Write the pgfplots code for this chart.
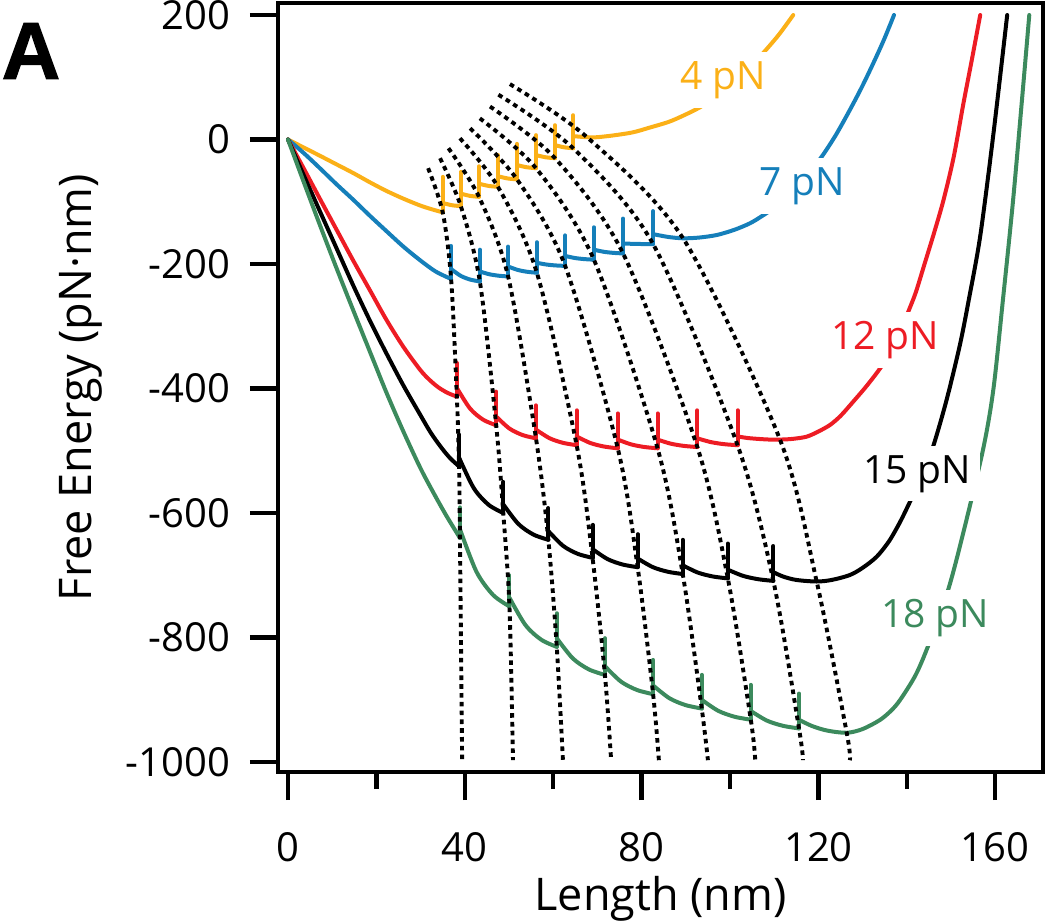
\documentclass[border=0pt]{standalone}
\usepackage{pgfplots}
\pgfplotsset{compat=1.18}
\usepackage{fontspec}
\setmainfont{Open Sans}
\newfontfamily\Afont{Liberation Sans}[BoldFeatures={FakeBold=1.5}]
\definecolor{cOr}{RGB}{251,176,23}
\definecolor{cBl}{RGB}{21,127,186}
\definecolor{cRe}{RGB}{237,28,36}
\definecolor{cGr}{RGB}{60,138,93}
\pgfplotsset{
  crv/.style={line width=2pt, line cap=round, line join=round, smooth, tension=0.5, mark=none},
  spk/.style={line width=2pt, line cap=round, mark=none},
  dot/.style={black, line width=1.95pt, dash pattern=on 2.3pt off 2.1pt, smooth, tension=0.5, mark=none},
}
\tikzset{lab/.style={fill=white, inner sep=4.5pt, font=\fontsize{19.5}{22}\selectfont}}
\begin{document}
\begin{tikzpicture}
\begin{axis}[
  scale only axis, width=382.5pt, height=384.5pt,
  xmin=-2.26, xmax=170.8, ymin=-1016, ymax=219.3,
  axis line style={line width=2pt},
  tick pos=left, tick align=outside,
  major tick length=14pt, minor tick length=8.5pt,
  tick style={line width=2.2pt, black},
  xtick={0,40,80,120,160}, xticklabels={0,40,80,120,160},
  minor xtick={20,60,100,140},
  ytick={-1000,-800,-600,-400,-200,0,200},
  yticklabels={-1000,-800,-600,-400,-200,0,200},
  ticklabel style={font=\fontsize{20}{24}\selectfont},
  xticklabel style={yshift=-12.7pt},
  yticklabel style={xshift=-6.4pt},
  xlabel={Length (nm)}, ylabel={Free Energy (pN·nm)},
  label style={font=\fontsize{22.5}{26}\selectfont},
  xlabel style={at={(axis description cs:0.5,0)}, anchor=center, yshift=-63.5pt},
  ylabel style={at={(axis description cs:0,0.5)}, anchor=center, yshift=98.5pt},
  unbounded coords=jump,
]
% ---------------- 4 pN (orange)
\addplot[crv, cOr] coordinates {(0,0) (3.6,-13) (7.2,-26) (11,-40) (14.8,-54) (18.6,-69) (22.4,-83) (26.1,-95) (29.9,-106) (32.5,-112) (35,-117)};
\addplot[crv, cOr] coordinates {(35.0,-102) (37.05,-105.5) (39.1,-107)};
\addplot[crv, cOr] coordinates {(39.1,-87) (41.15,-90.5) (43.2,-92)};
\addplot[crv, cOr] coordinates {(43.2,-71) (45.35,-74.5) (47.5,-76)};
\addplot[crv, cOr] coordinates {(47.5,-59) (49.65,-62.5) (51.8,-64)};
\addplot[crv, cOr] coordinates {(51.8,-41) (53.95,-44.5) (56.1,-46)};
\addplot[crv, cOr] coordinates {(56.1,-25) (58.25,-28.5) (60.4,-30)};
\addplot[crv, cOr] coordinates {(60.4,-9) (62.45,-12.5) (64.5,-14)};
\addplot[crv, cOr] coordinates {(64.5,5.5) (67,4) (69.5,3.5) (73.5,6.5) (78,11.5) (82,19.5) (86,28) (89,37) (93,51) (97,70) (100.5,90) (104,113) (107.5,139) (111,168) (114.3,200)};
\addplot[spk, cOr] coordinates {(35.0,-117) (35.0,-60) (nan,nan) (39.1,-107) (39.1,-52) (nan,nan) (43.2,-92) (43.2,-43) (nan,nan) (47.5,-76) (47.5,-25) (nan,nan) (51.8,-64) (51.8,-7) (nan,nan) (56.1,-46) (56.1,7) (nan,nan) (60.4,-30) (60.4,23) (nan,nan) (64.5,-14) (64.5,39)};
% ---------------- 7 pN (blue)
\addplot[crv, cBl] coordinates {(0,0) (3.6,-22) (7.2,-46) (11,-72) (14.8,-97) (18.6,-123) (22.4,-148) (26.1,-172) (29.9,-194) (33.4,-212) (36.9,-224)};
\addplot[crv, cBl] coordinates {(36.9,-208) (39.07,-219) (41.23,-225) (43.4,-228)};
\addplot[crv, cBl] coordinates {(43.4,-212) (45.53,-216.4) (47.67,-218.8) (49.8,-220)};
\addplot[crv, cBl] coordinates {(49.8,-204) (51.97,-209.5) (54.13,-212.5) (56.3,-214)};
\addplot[crv, cBl] coordinates {(56.3,-198) (58.43,-200.8) (60.57,-202.3) (62.7,-203)};
\addplot[crv, cBl] coordinates {(62.7,-187) (64.87,-190.3) (67.03,-192.1) (69.2,-193)};
\addplot[crv, cBl] coordinates {(69.2,-177) (71.4,-180.3) (73.6,-182.1) (75.8,-183)};
\addplot[crv, cBl] coordinates {(75.8,-167) (78.07,-167.6) (80.33,-167.9) (82.6,-168)};
\addplot[crv, cBl] coordinates {(82.6,-152) (86,-156.5) (89.4,-158.7) (93,-157.5) (97,-153.4) (101,-145) (104.5,-134.6) (107,-124) (109.8,-110.5) (113,-90) (116,-68) (118.5,-48) (121,-25) (124,8) (127.1,47.4) (129.8,84) (132.4,122.4) (134.8,160) (137.1,200)};
\addplot[spk, cBl] coordinates {(36.9,-224) (36.9,-171) (nan,nan) (43.4,-228) (43.4,-177) (nan,nan) (49.8,-220) (49.8,-172) (nan,nan) (56.3,-214) (56.3,-165) (nan,nan) (62.7,-203) (62.7,-154) (nan,nan) (69.2,-193) (69.2,-141) (nan,nan) (75.8,-183) (75.8,-127) (nan,nan) (82.6,-168) (82.6,-115)};
% ---------------- 12 pN (red)
\addplot[crv, cRe] coordinates {(0,0) (3.6,-47) (7.2,-95) (11,-145) (14.8,-195) (18.6,-243) (22.3,-290) (26.1,-333) (29.9,-370) (32,-386) (34,-398) (36.1,-407) (38.2,-413)};
\addplot[crv, cRe] coordinates {(38.2,-399) (41.17,-432) (44.13,-450) (47.1,-459)};
\addplot[crv, cRe] coordinates {(47.1,-445) (50.1,-464.3) (53.1,-474.8) (56.1,-480)};
\addplot[crv, cRe] coordinates {(56.1,-466) (59.17,-479.8) (62.23,-487.3) (65.3,-491)};
\addplot[crv, cRe] coordinates {(65.3,-477) (68.4,-487.5) (71.5,-493.2) (74.6,-496)};
\addplot[crv, cRe] coordinates {(74.6,-482) (77.6,-489.7) (80.6,-493.9) (83.6,-496)};
\addplot[crv, cRe] coordinates {(83.6,-482) (86.6,-488.6) (89.6,-492.2) (92.6,-494)};
\addplot[crv, cRe] coordinates {(92.6,-480) (95.63,-486) (98.67,-489.4) (101.7,-491)};
\addplot[crv, cRe] coordinates {(101.7,-477) (104,-479.5) (106.5,-481) (109,-482) (111.3,-482) (114,-481) (117.3,-477.4) (120,-469) (122.6,-458.6) (125,-444) (128,-420) (131,-395) (134.3,-364) (137.5,-326) (140.3,-277) (142,-246) (144,-200) (146.2,-149) (148.3,-97) (150.6,-28) (152.8,58) (154.7,128) (156.6,200)};
\addplot[spk, cRe] coordinates {(38.2,-413) (38.2,-359) (nan,nan) (47.1,-459) (47.1,-405) (nan,nan) (56.1,-480) (56.1,-427) (nan,nan) (65.3,-491) (65.3,-435) (nan,nan) (74.6,-496) (74.6,-440) (nan,nan) (83.6,-496) (83.6,-440) (nan,nan) (92.6,-494) (92.6,-435) (nan,nan) (101.7,-491) (101.7,-435)};
% ---------------- 15 pN (black)
\addplot[crv, black] coordinates {(0,0) (3.6,-58) (7.2,-115) (11,-175) (14.8,-235) (18.6,-292) (22.3,-344) (26.1,-395) (29.9,-442) (32.3,-471) (34.7,-495) (36.7,-512) (38.7,-525)};
\addplot[crv, black] coordinates {(38.7,-511) (42.03,-560) (45.37,-586.7) (48.7,-600)};
\addplot[crv, black] coordinates {(48.7,-586) (52.1,-617.4) (55.5,-634.5) (58.9,-643)};
\addplot[crv, black] coordinates {(58.9,-629) (62.23,-652.7) (65.57,-665.6) (68.9,-672)};
\addplot[crv, black] coordinates {(68.9,-658) (72.3,-674) (75.7,-682.7) (79.1,-687)};
\addplot[crv, black] coordinates {(79.1,-673) (82.5,-686.8) (85.9,-694.3) (89.3,-698)};
\addplot[crv, black] coordinates {(89.3,-684) (92.7,-695.6) (96.1,-701.9) (99.5,-705)};
\addplot[crv, black] coordinates {(99.5,-691) (102.93,-700.9) (106.37,-706.3) (109.8,-709)};
\addplot[crv, black] coordinates {(109.8,-695) (112,-702) (115,-707.5) (119.6,-710) (123,-707.5) (127.1,-699.6) (130,-688) (133.2,-670) (136,-645) (138.5,-614) (140.7,-582) (143.5,-540) (146,-492) (149,-418) (152,-330) (154,-258) (156.6,-155) (159.6,10) (162.7,200)};
\addplot[spk, black] coordinates {(38.7,-525) (38.7,-474) (nan,nan) (48.7,-600) (48.7,-550) (nan,nan) (58.9,-643) (58.9,-592) (nan,nan) (68.9,-672) (68.9,-619) (nan,nan) (79.1,-687) (79.1,-634) (nan,nan) (89.3,-698) (89.3,-643) (nan,nan) (99.5,-705) (99.5,-649) (nan,nan) (109.8,-709) (109.8,-653)};
% ---------------- 18 pN (green)
\addplot[crv, cGr] coordinates {(0,0) (3.6,-69) (7.2,-137) (11,-207) (14.8,-275) (18.6,-342) (22.3,-407) (26.1,-469) (29.9,-527) (32.8,-566) (35.8,-604) (38.9,-640)};
\addplot[crv, cGr] coordinates {(38.9,-626) (42.63,-694.2) (46.37,-731.4) (50.1,-750)};
\addplot[crv, cGr] coordinates {(50.1,-736) (53.67,-779.5) (57.23,-803.2) (60.8,-815)};
\addplot[crv, cGr] coordinates {(60.8,-801) (64.43,-833.5) (68.07,-851.2) (71.7,-860)};
\addplot[crv, cGr] coordinates {(71.7,-846) (75.33,-870.8) (78.97,-884.3) (82.6,-891)};
\addplot[crv, cGr] coordinates {(82.6,-877) (86.27,-897.4) (89.93,-908.5) (93.6,-914)};
\addplot[crv, cGr] coordinates {(93.6,-900) (97.3,-917.6) (101,-927.2) (104.7,-932)};
\addplot[crv, cGr] coordinates {(104.7,-918) (108.33,-933.4) (111.97,-941.8) (115.6,-946)};
\addplot[crv, cGr] coordinates {(115.6,-932) (118.5,-942) (122,-949.5) (126.4,-953) (130,-947) (133.9,-932.5) (136.5,-917) (138.5,-900) (142,-860) (145,-810) (149.4,-722) (153,-625) (157.3,-496) (159.6,-400) (161.7,-260) (164,-100) (166,60) (167.7,200)};
\addplot[spk, cGr] coordinates {(38.9,-640) (38.9,-591) (nan,nan) (50.1,-750) (50.1,-700) (nan,nan) (60.8,-815) (60.8,-761) (nan,nan) (71.7,-860) (71.7,-801) (nan,nan) (82.6,-891) (82.6,-836) (nan,nan) (93.6,-914) (93.6,-860) (nan,nan) (104.7,-932) (104.7,-876) (nan,nan) (115.6,-946) (115.6,-890)};
% ---------------- dotted guide lines
\addplot[dot] coordinates {(31.7,-46) (35.0,-117) (36.9,-224) (38.2,-413) (38.7,-525) (38.9,-640) (39.4,-997)};
\addplot[dot] coordinates {(34.4,-30) (39.1,-107) (43.4,-228) (47.1,-459) (48.7,-600) (50.1,-750) (50.9,-997)};
\addplot[dot] coordinates {(36.3,-14) (43.2,-92) (49.8,-220) (56.1,-480) (58.9,-643) (60.8,-815) (62.2,-997)};
\addplot[dot] coordinates {(38.9,2) (47.5,-76) (56.3,-214) (65.3,-491) (68.9,-672) (71.7,-860) (73.1,-997)};
\addplot[dot] coordinates {(41.2,18) (51.8,-64) (62.7,-203) (74.6,-496) (79.1,-687) (82.6,-891) (83.9,-997)};
\addplot[dot] coordinates {(43.4,34) (56.1,-46) (69.2,-193) (83.6,-496) (89.3,-698) (93.6,-914) (95.0,-997)};
\addplot[dot] coordinates {(45.7,53) (60.4,-30) (75.8,-183) (92.6,-494) (99.5,-705) (104.7,-932) (105.7,-997)};
\addplot[dot] coordinates {(47.6,72) (64.5,-14) (82.6,-168) (101.7,-491) (109.8,-709) (115.6,-946) (116.5,-997)};
\addplot[dot] coordinates {(50.2,89) (67.6,4) (89.4,-159) (111.3,-482) (119.6,-710) (126.4,-953) (127.1,-997)};
% ---------------- labels
\node[lab, text=cOr] at (axis cs:98.4,95.6) {4 pN};
\node[lab, text=cBl] at (axis cs:116.3,-74.7) {7 pN};
\node[lab, text=cRe] at (axis cs:135.1,-322) {12 pN};
\node[lab, text=black] at (axis cs:142.3,-537) {15 pN};
\node[lab, text=cGr] at (axis cs:146.4,-769) {18 pN};
\end{axis}
\node[font=\Afont\bfseries\fontsize{40.5}{40}\selectfont, inner sep=0pt] at (-123.5pt,360.5pt) {A};
\pgfresetboundingbox
\path[use as bounding box] (-139pt,-74.5pt) rectangle (386pt,386pt);
\end{tikzpicture}
\end{document}
